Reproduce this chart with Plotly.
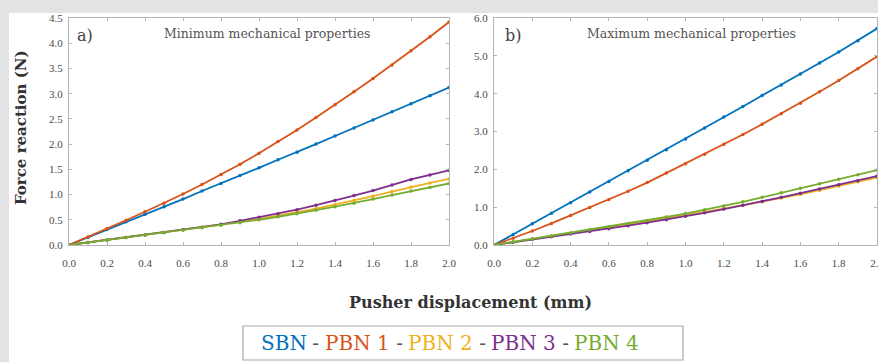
import plotly.graph_objects as go

W, H = 878, 362

# ---------------- data ----------------
displacement = [0.0, 0.1, 0.2, 0.3, 0.4, 0.5, 0.6, 0.7, 0.8, 0.9, 1.0,
                1.1, 1.2, 1.3, 1.4, 1.5, 1.6, 1.7, 1.8, 1.9, 2.0]

series_names = ["SBN", "PBN 1", "PBN 2", "PBN 3", "PBN 4"]
series_colors = ["#0072BD", "#D95319", "#EDB120", "#7E2F8E", "#77AC30"]

# a) Minimum mechanical properties
min_sbn = [0, 0.15, 0.31, 0.46, 0.61, 0.76, 0.91, 1.07, 1.22, 1.38, 1.53,
           1.69, 1.84, 2.00, 2.16, 2.32, 2.48, 2.64, 2.80, 2.96, 3.12]
min_pbn1 = [0, 0.16, 0.32, 0.49, 0.66, 0.83, 1.01, 1.20, 1.40, 1.60, 1.82,
            2.05, 2.28, 2.53, 2.78, 3.04, 3.30, 3.57, 3.85, 4.13, 4.42]
min_pbn2 = [0, 0.05, 0.10, 0.15, 0.20, 0.25, 0.30, 0.35, 0.40, 0.46, 0.52,
            0.58, 0.65, 0.72, 0.80, 0.88, 0.97, 1.06, 1.15, 1.23, 1.31]
min_pbn3 = [0, 0.05, 0.10, 0.15, 0.20, 0.25, 0.30, 0.35, 0.41, 0.48, 0.55,
            0.62, 0.70, 0.79, 0.88, 0.98, 1.08, 1.19, 1.30, 1.39, 1.48]
min_pbn4 = [0, 0.05, 0.10, 0.15, 0.20, 0.25, 0.29, 0.34, 0.39, 0.44, 0.50,
            0.56, 0.62, 0.69, 0.76, 0.83, 0.91, 0.99, 1.07, 1.14, 1.22]

# b) Maximum mechanical properties
max_sbn = [0, 0.28, 0.56, 0.84, 1.12, 1.40, 1.68, 1.96, 2.24, 2.52, 2.80,
           3.09, 3.38, 3.66, 3.95, 4.23, 4.52, 4.81, 5.10, 5.40, 5.72]
max_pbn1 = [0, 0.18, 0.37, 0.57, 0.78, 0.99, 1.20, 1.42, 1.65, 1.90, 2.15,
            2.40, 2.66, 2.92, 3.19, 3.47, 3.75, 4.05, 4.35, 4.66, 4.98]
max_pbn2 = [0, 0.08, 0.16, 0.24, 0.31, 0.39, 0.47, 0.54, 0.62, 0.70, 0.78,
            0.87, 0.96, 1.05, 1.14, 1.24, 1.34, 1.45, 1.56, 1.67, 1.78]
max_pbn3 = [0, 0.07, 0.15, 0.22, 0.29, 0.36, 0.43, 0.51, 0.59, 0.67, 0.76,
            0.85, 0.95, 1.05, 1.15, 1.26, 1.37, 1.48, 1.59, 1.70, 1.82]
max_pbn4 = [0, 0.08, 0.16, 0.24, 0.32, 0.40, 0.48, 0.57, 0.65, 0.74, 0.83,
            0.93, 1.03, 1.14, 1.26, 1.38, 1.50, 1.62, 1.74, 1.86, 1.98]

x_ticks = [0.0, 0.2, 0.4, 0.6, 0.8, 1.0, 1.2, 1.4, 1.6, 1.8, 2.0]
y_ticks_a = [0.0, 0.5, 1.0, 1.5, 2.0, 2.5, 3.0, 3.5, 4.0, 4.5]
y_ticks_b = [0.0, 1.0, 2.0, 3.0, 4.0, 5.0, 6.0]

panel_a_series = [min_sbn, min_pbn1, min_pbn2, min_pbn3, min_pbn4]
panel_b_series = [max_sbn, max_pbn1, max_pbn2, max_pbn3, max_pbn4]

# ---------------- helpers ----------------
def px_x(p):
    return p / W


def px_y(p):
    return 1 - p / H


SERIF = "Liberation Serif"
WIDE_SERIF = "DejaVu Serif"
TICK_COLOR = "#4a4a4a"
FRAME = "#b5b5b5"

fig = go.Figure()

for vals, name, col in zip(panel_a_series, series_names, series_colors):
    fig.add_trace(go.Scatter(x=displacement, y=vals, name=name, mode="lines+markers",
                             line=dict(color=col, width=1.8),
                             marker=dict(color=col, size=3.5),
                             xaxis="x", yaxis="y", showlegend=False))
for vals, name, col in zip(panel_b_series, series_names, series_colors):
    fig.add_trace(go.Scatter(x=displacement, y=vals, name=name, mode="lines+markers",
                             line=dict(color=col, width=1.8),
                             marker=dict(color=col, size=3.5),
                             xaxis="x2", yaxis="y2", showlegend=False))

ax_common = dict(showgrid=False, zeroline=False, showline=True, linecolor=FRAME,
                 linewidth=1, mirror="ticks", ticks="inside", ticklen=3,
                 tickcolor=FRAME, automargin=False, ticklabeloverflow="allow",
                 tickfont=dict(family=SERIF, size=11, color=TICK_COLOR))

y_bot, y_top = px_y(245), px_y(18)

fig.update_layout(
    width=W, height=H,
    margin=dict(l=0, r=0, t=0, b=0, pad=0),
    paper_bgcolor="#e3e3e3",
    plot_bgcolor="white",
    template="none",
    showlegend=False,
    xaxis=dict(domain=[px_x(69), px_x(449)], range=[0, 2.0], tickvals=x_ticks,
               tickformat=".1f", anchor="y", ticklabelstandoff=8, **ax_common),
    yaxis=dict(domain=[y_bot, y_top], range=[0, 4.5], tickvals=y_ticks_a,
               tickformat=".1f", anchor="x", ticklabelstandoff=3, **ax_common),
    xaxis2=dict(domain=[px_x(494), px_x(877)], range=[0, 2.0], tickvals=x_ticks,
                tickformat=".1f", anchor="y2", ticklabelstandoff=8, **ax_common),
    yaxis2=dict(domain=[y_bot, y_top], range=[0, 6.0], tickvals=y_ticks_b,
                tickformat=".1f", anchor="x2", ticklabelstandoff=3, **ax_common),
)

# white page area
fig.add_shape(type="rect", xref="paper", yref="paper", layer="below",
              x0=px_x(9), x1=1.01, y0=-0.01, y1=px_y(13),
              fillcolor="white", line=dict(width=0))

annos = [
    dict(x=px_x(75), y=px_y(35), text="a)", size=16, color="#444444", xanchor="left"),
    dict(x=px_x(267), y=px_y(34), text="Minimum mechanical properties", size=12.5,
         color="#555555", xanchor="center"),
    dict(x=px_x(503), y=px_y(35), text="b)", size=16, color="#444444", xanchor="left"),
    dict(x=px_x(691), y=px_y(34), text="Maximum mechanical properties", size=12.5,
         color="#555555", xanchor="center"),
    dict(x=px_x(470), y=px_y(302), text="<b>Pusher displacement (mm)</b>", size=16,
         color="#333333", xanchor="center"),
]
for a in annos:
    fig.add_annotation(xref="paper", yref="paper", x=a["x"], y=a["y"], text=a["text"],
                       showarrow=False, xanchor=a["xanchor"], yanchor="middle",
                       font=dict(family=WIDE_SERIF, size=a["size"], color=a["color"]))

fig.add_annotation(xref="paper", yref="paper", x=px_x(21), y=px_y(128),
                   text="<b>Force reaction (N)</b>", textangle=-90, showarrow=False,
                   xanchor="center", yanchor="middle",
                   font=dict(family=WIDE_SERIF, size=15, color="#333333"))

# legend box with coloured names (one text piece per name / separator)
fig.add_shape(type="rect", xref="paper", yref="paper",
              x0=px_x(243), x1=px_x(683), y0=px_y(360), y1=px_y(326),
              fillcolor="white", line=dict(color="#aaaaaa", width=1.2))

LEG_SIZE = 20
char_em = {"S": 0.685, "B": 0.733, "N": 0.82, "P": 0.673, " ": 0.318, "-": 0.338,
           "1": 0.636, "2": 0.636, "3": 0.636, "4": 0.636}


def text_w(s):
    return sum(char_em.get(c, 0.6) for c in s) * LEG_SIZE


pieces = []
for i, (name, col) in enumerate(zip(series_names, series_colors)):
    if i > 0:
        pieces.append((" - ", "#555555"))
    pieces.append((name, col))
total = sum(text_w(s) for s, _ in pieces)
cursor = 450 - total / 2
for s, col in pieces:
    w = text_w(s)
    fig.add_annotation(xref="paper", yref="paper", x=px_x(cursor + w / 2), y=px_y(343),
                       text=s.replace(" ", "&nbsp;"), showarrow=False,
                       xanchor="center", yanchor="middle",
                       font=dict(family=WIDE_SERIF, size=LEG_SIZE, color=col))
    cursor += w

fig.write_html("out.html",
               config={"displayModeBar": False},
               post_script="document.body.style.margin='0';"
                           "document.documentElement.style.overflow='hidden';")
